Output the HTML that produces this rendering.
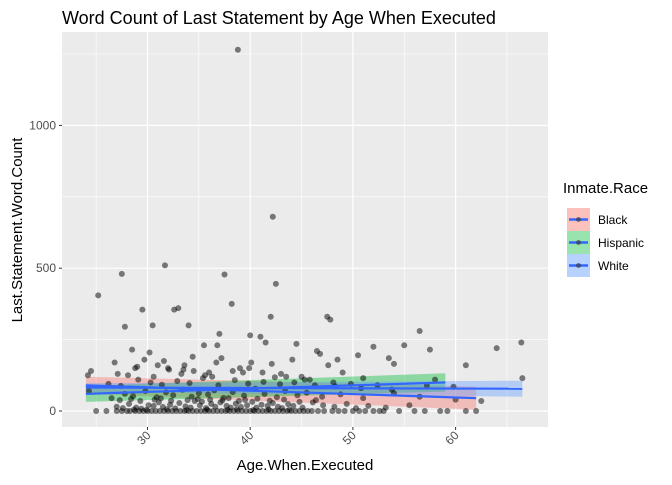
<!DOCTYPE html>
<html><head><meta charset="utf-8"><style>
body{margin:0;background:#fff;font-family:"Liberation Sans",sans-serif}
</style></head><body>
<svg id="chart" width="672" height="480" xmlns="http://www.w3.org/2000/svg">
<text x="62" y="24" font-size="18" fill="#000">Word Count of Last Statement by Age When Executed</text>
<rect x="62" y="32" width="486" height="395" fill="#ebebeb"/>
<g id="grid"></g>
<g id="bands"></g>
<g id="points"></g>
<g id="lines"></g>
<g id="axes"></g>
<text x="305" y="470" font-size="15" text-anchor="middle">Age.When.Executed</text>
<text transform="translate(22,230) rotate(-90)" font-size="15" text-anchor="middle">Last.Statement.Word.Count</text>
<g>
<text x="563" y="193" font-size="15">Inmate.Race</text>
<g>
<rect x="567" y="208" width="23" height="23" fill="#f8766d" fill-opacity="0.45"/>
<line x1="569" x2="588" y1="219.5" y2="219.5" stroke="#3366ff" stroke-width="2.5"/><circle cx="578.5" cy="219.5" r="2.5" fill="#333" fill-opacity="0.6"/>
<text x="598" y="224" font-size="12">Black</text></g>
<g>
<rect x="567" y="231" width="23" height="23" fill="#00ba38" fill-opacity="0.4"/>
<line x1="569" x2="588" y1="242.5" y2="242.5" stroke="#3366ff" stroke-width="2.5"/><circle cx="578.5" cy="242.5" r="2.5" fill="#333" fill-opacity="0.6"/>
<text x="598" y="247" font-size="12">Hispanic</text></g>
<g>
<rect x="567" y="254" width="23" height="23" fill="#619cff" fill-opacity="0.45"/>
<line x1="569" x2="588" y1="265.5" y2="265.5" stroke="#3366ff" stroke-width="2.5"/><circle cx="578.5" cy="265.5" r="2.5" fill="#333" fill-opacity="0.6"/>
<text x="598" y="270" font-size="12">White</text></g>
</g>
</svg>
<script>
const xTicks=[30,40,50,60];
const yTicks=[0,500,1000];
const ages=[38.8,42.2,31.7,27.5,37.5,42.5,25.2,38.2,33,29.5,32.6,47.5,47.8,42,56.5,64,66.4,30.5,27.8,34,37,40,41,35.5,28.5,30.2,36.8,41.5,44.5,52,55,57.5,46.5,46.8,48.5,50.5,53.5,54,26.8,29,31,32,33.5,34.5,36,39,43,45,49,51,58,61,24.2,24.3,66.5,62.5,
25,26,27,27.5,28,28.3,28.8,29.2,29.6,30,30.4,30.8,31.2,31.6,32,32.4,32.8,33.2,33.6,34,34.4,34.8,35.2,35.6,36,36.4,36.8,37.2,37.6,38,38.4,38.8,39.2,39.6,40,40.4,40.8,41.2,41.6,42,42.4,42.8,43.2,43.6,44,44.4,44.8,45.2,45.6,46,46.6,47.2,48,48.6,49.2,50,50.6,51.2,52,52.6,53,54.5,56,57,58.5,59.2,61,62,
27,27.6,28.2,28.9,29.4,30.1,30.6,31.1,31.5,32.2,32.7,33.1,33.7,34.2,34.6,35.1,35.7,36.2,36.6,37.1,37.7,38.1,38.6,39.1,39.7,40.2,40.6,41.1,41.7,42.2,42.7,43.1,43.7,44.2,45.1,46.1,47.1,48.2,49.4,50.3,51.5,53.2,55.5,
26.5,27.8,28.6,29.8,30.9,31.8,32.5,33.4,34.3,35,35.9,36.5,37.4,38.3,39.4,40.5,41.4,42.6,43.4,44.6,45.5,47,48.8,51,54,56.5,60,
26.2,27.4,29.1,30.3,31.4,32.9,34.1,35.4,36.9,38.5,39.8,41.3,42.9,44.3,46.3,48.3,50.8,53.8,
24.5,28.1,33.3,36.3,39.3,42.4,45.8,49.8,57.2,59.8,
27.3,28.4,29.3,30.7,31.3,32.3,33.9,34.9,35.3,36.1,37.3,37.9,38.9,39.5,40.7,41.9,43.3,44.8,46.4,
28.7,29.9,31.9,33.8,35.8,37.8,38.7,40.3,41.8,43.8,
27.1,28.8,30.6,32.1,33.6,35.6,36.7,38.3,39.9,41.2,43.5,45.3,48.1,52.4,
29.7,31.6,34.4,37.2,40.1,42.1,44.1,47.6];
const counts=[1265,680,510,480,478,445,405,375,360,355,355,330,320,330,280,220,240,300,295,300,270,265,260,230,215,205,230,240,235,225,230,215,210,200,180,195,185,165,170,155,160,150,145,140,135,150,130,120,135,115,110,160,125,70,115,35,
0,0,0,0,0,0,0,0,0,0,0,0,0,0,0,0,0,0,0,0,0,0,0,0,0,0,0,0,0,0,0,0,0,0,0,0,0,0,0,0,0,0,0,0,0,0,0,0,0,0,0,0,0,0,0,0,0,0,0,0,0,0,0,0,0,0,0,0,
15,10,25,12,8,20,18,30,14,22,9,28,16,12,35,20,10,25,15,30,18,12,26,14,20,32,12,22,18,28,15,10,24,18,12,30,20,15,25,10,18,12,20,
45,60,52,70,48,65,55,75,50,62,58,72,46,66,54,78,60,48,70,55,64,50,58,45,62,50,40,
95,88,110,100,92,105,98,115,90,108,96,102,94,100,90,86,80,75,
140,125,130,120,135,118,110,95,90,85,
38,42,35,40,44,36,38,42,33,40,37,45,35,39,43,36,40,32,38,
5,4,6,3,5,4,6,3,5,4,
130,150,120,145,160,125,170,140,150,135,120,110,100,90,
180,175,190,185,170,165,180,160];
const fitX={black:[24,62],hispanic:[24,59],white:[24,66.5]};
const fitY={black:[90,45],hispanic:[60,100],white:[82,78]};
const fitSE={black:[30,40],hispanic:[28,32],white:[15,28]};
const fitColor={black:"#f8766d",hispanic:"#00ba38",white:"#619cff"};
const X=a=>147.5+(a-30)*10.27;
const Y=v=>411-v*0.2856;
const NS="http://www.w3.org/2000/svg";
function mk(t,attrs,parent){const e=document.createElementNS(NS,t);for(const k in attrs)e.setAttribute(k,attrs[k]);document.getElementById(parent).appendChild(e);return e;}
const minorX=[25,35,45,55,65],minorY=[250,750,1250];
minorX.forEach(v=>{const l=mk("line",{x1:X(v),x2:X(v),y1:32,y2:427,stroke:"#fff","stroke-width":0.6},"grid");

});
minorY.forEach(v=>{if(Y(v)<32)return;const l=mk("line",{x1:62,x2:548,y1:Y(v),y2:Y(v),stroke:"#fff","stroke-width":0.6},"grid");

});
xTicks.forEach(v=>{const l=mk("line",{x1:X(v),x2:X(v),y1:32,y2:427,stroke:"#fff","stroke-width":1.2},"grid");


const t=mk("line",{x1:X(v),x2:X(v),y1:427,y2:430,stroke:"#333"},"axes");


const lb=mk("text",{x:0,y:0,"font-size":12,fill:"#4d4d4d","text-anchor":"end",transform:`translate(${X(v)+4},${436}) rotate(-45)`},"axes");
lb.textContent=v;

});
yTicks.forEach(v=>{const l=mk("line",{x1:62,x2:548,y1:Y(v),y2:Y(v),stroke:"#fff","stroke-width":1.2},"grid");


const t=mk("line",{x1:59,x2:62,y1:Y(v),y2:Y(v),stroke:"#333"},"axes");


const lb=mk("text",{x:56,y:Y(v)+4,"font-size":12,fill:"#4d4d4d","text-anchor":"end"},"axes");
lb.textContent=v;

});
ages.forEach((a,i)=>{const c=mk("circle",{cx:X(a),cy:Y(counts[i]),r:3,fill:"#000","fill-opacity":0.5},"points");

});
Object.keys(fitX).forEach(k=>{const x=fitX[k],y=fitY[k],s=fitSE[k];
const d=`M${X(x[0])},${Y(y[0]+s[0])}L${X(x[1])},${Y(y[1]+s[1])}L${X(x[1])},${Y(y[1]-s[1])}L${X(x[0])},${Y(y[0]-s[0])}Z`;
const b=mk("path",{d:d,fill:fitColor[k],"fill-opacity":0.4},"bands");


const l=mk("line",{x1:X(x[0]),y1:Y(y[0]),x2:X(x[1]),y2:Y(y[1]),stroke:"#3366ff","stroke-width":2.2},"lines");

});
</script>
</body></html>
